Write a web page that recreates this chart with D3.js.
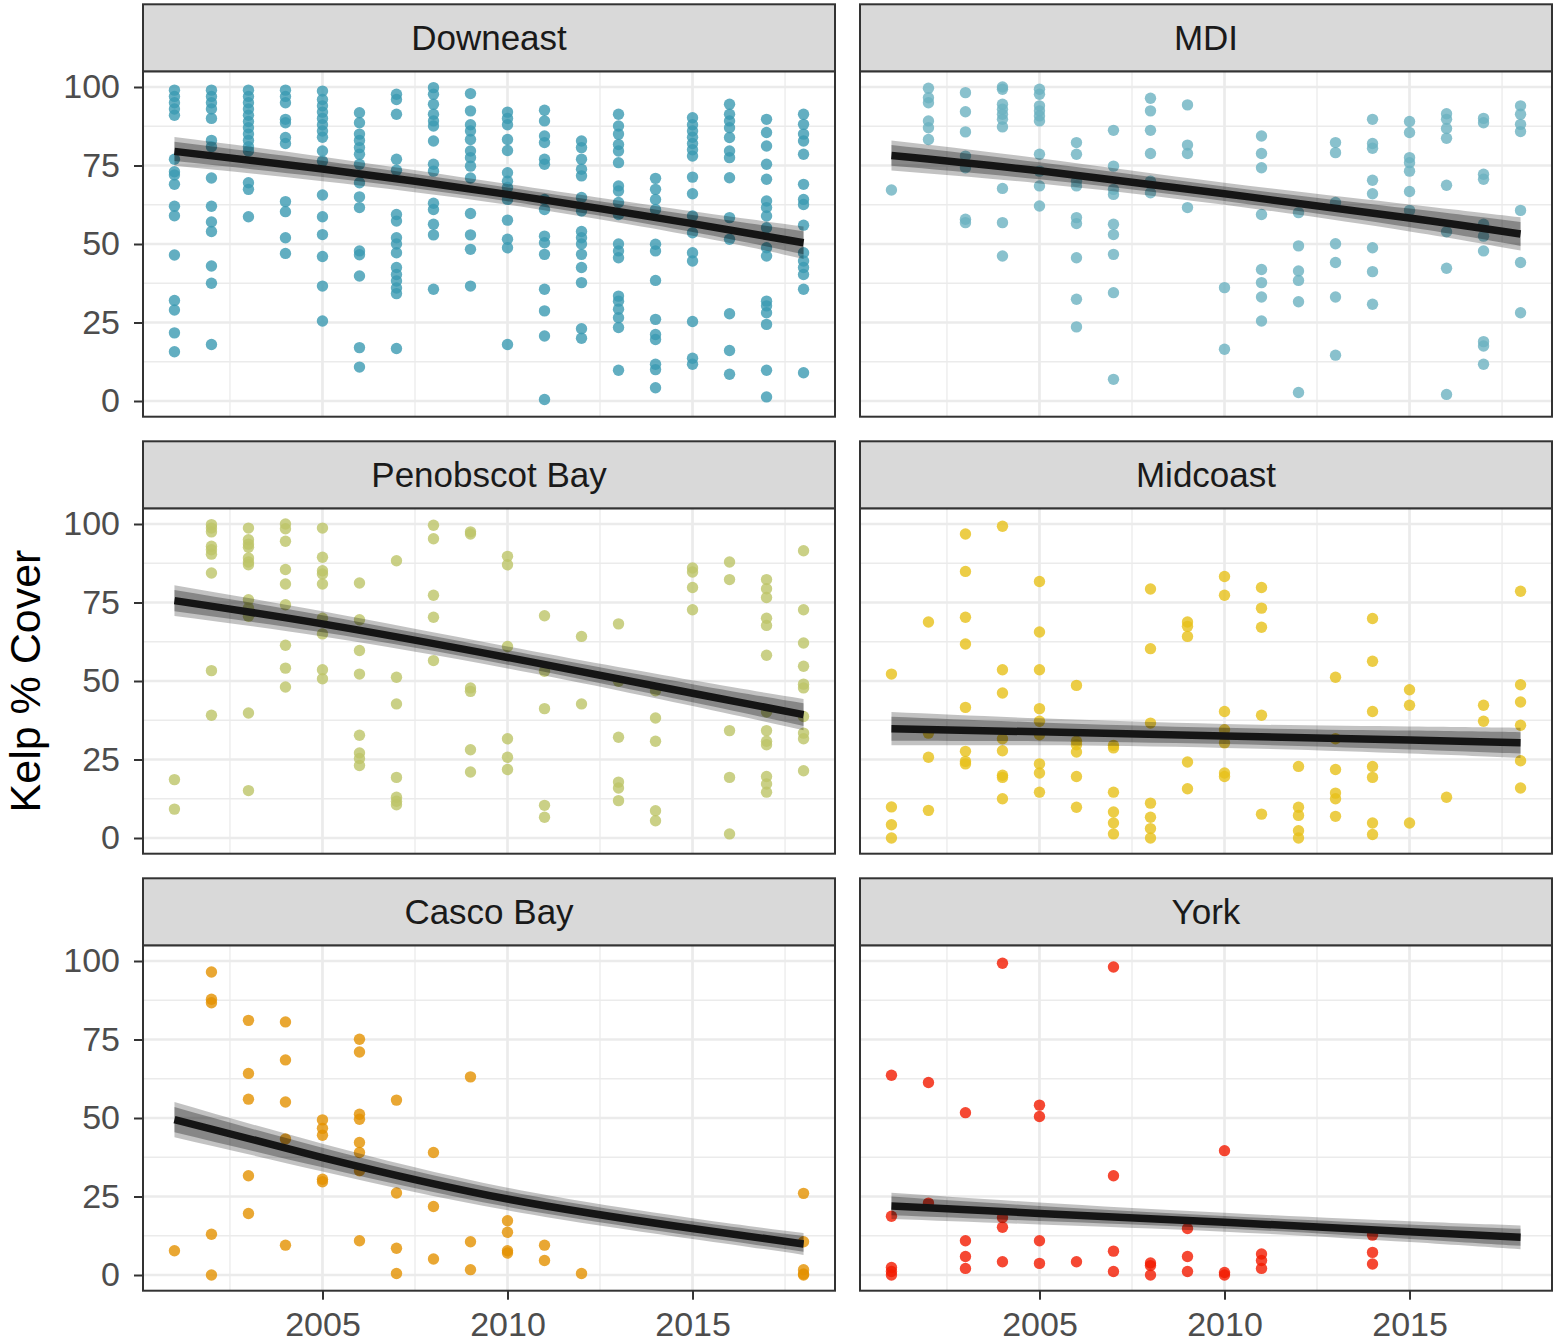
<!DOCTYPE html>
<html>
<head>
<meta charset="utf-8">
<script src="https://cdn.jsdelivr.net/npm/d3@7"></script>
<style>
  html, body { margin: 0; padding: 0; background: #fff; }
  svg text { font-family: "Liberation Sans", Arial, Helvetica, sans-serif; }
</style>
</head>
<body>
<svg id="chart" width="1554" height="1342"></svg>
<script>
// ---- regions, colours and axis breaks ----
const regions = ["Downeast", "MDI", "Penobscot Bay", "Midcoast", "Casco Bay", "York"];
const regionColors = ["#3B9AB2", "#6CB1C1", "#BDC468", "#E7C019", "#E49100", "#F21A00"];
const yearBreaks = [2005, 2010, 2015];
const yearMinorBreaks = [2002.5, 2007.5, 2012.5, 2017.5];
const coverBreaks = [0, 25, 50, 75, 100];
const coverMinorBreaks = [12.5, 37.5, 62.5, 87.5];
const yearRange = [2001, 2018];

// ---- transect observations: [year, [kelp % cover values]] ----
const downeastObs = [
  [2001, [99, 97, 95, 93, 91, 77, 73, 72, 69, 62, 59, 46.5, 32, 29, 21.7, 15.7]],
  [2002, [99, 97, 95, 93, 90, 83, 81, 71, 62, 57, 54, 43, 37.5, 18]],
  [2003, [99, 97, 95, 93, 91, 89, 87, 85, 83, 81, 79.6, 69.5, 67.4, 58.7]],
  [2004, [99, 97, 95, 89.7, 88.6, 83.9, 82, 63.5, 60.3, 52, 47]],
  [2005, [98.7, 96, 94, 92, 90, 88, 86, 84, 79.6, 76.4, 65.6, 58.7, 53, 46, 36.6, 25.5]],
  [2006, [91.8, 88.6, 85, 83, 80.7, 78.6, 75.4, 69.5, 65, 61.6, 47.8, 46.6, 39.8, 17, 10.8]],
  [2007, [97.7, 96, 91.3, 77, 73.5, 59.4, 57.3, 52, 50, 47.2, 42.5, 40.3, 38.2, 36, 34.2, 16.7]],
  [2008, [99.8, 97.7, 94.5, 91.3, 89.2, 87.6, 82.8, 75.4, 73.2, 63, 61, 56.3, 52.9, 35.6]],
  [2009, [97.9, 92.4, 88, 86, 83.3, 79.6, 77.5, 74.8, 71, 59.7, 52.9, 48.3, 36.6]],
  [2010, [92, 90, 88, 83.3, 79.8, 72.7, 70, 68, 64.2, 57.6, 51.5, 48.8, 18]],
  [2011, [92.6, 89.2, 84.4, 82.3, 77, 75.4, 64.2, 61, 52.5, 50.4, 46.7, 35.6, 28.7, 20.7, 0.5]],
  [2012, [82.8, 80.7, 77, 73.8, 71.7, 64.8, 60.5, 54, 52, 50, 46.7, 42.5, 37.7, 23, 20]],
  [2013, [91.3, 87.6, 85, 81.7, 79.6, 75.9, 68.5, 66.9, 63.2, 59.4, 50, 47.8, 45.6, 33.4, 31.8, 29.2, 26.5, 23.4, 9.8]],
  [2014, [70.9, 67.4, 64.2, 61, 49.9, 47.8, 38.4, 26, 21.2, 19.6, 11.7, 10, 4.2]],
  [2015, [90.2, 88, 86, 84, 82, 80, 78, 71.3, 66, 58.9, 53.6, 47.2, 44.6, 25.3, 13.6, 11.7]],
  [2016, [94.5, 91.3, 89.2, 87, 83.9, 79.6, 77.5, 71.1, 58.4, 51.5, 27.8, 16.1, 8.5]],
  [2017, [89.7, 85.5, 81.2, 75.4, 70.6, 63.7, 61.6, 58.9, 55.2, 48.8, 46.2, 31.8, 30.3, 28.1, 24.4, 9.8, 1.3]],
  [2018, [91.3, 88.1, 85, 82.8, 78.6, 69, 64.2, 62.6, 56, 47.2, 44.6, 42.5, 40.3, 35.6, 9]]
];
const mdiObs = [
  [2001, [67.2]],
  [2002, [99.6, 96.6, 95, 89.2, 87, 83.3]],
  [2003, [98.2, 92.1, 85.7, 78, 74.3, 57.9, 56.8]],
  [2004, [100, 99.3, 94.5, 92.9, 91.3, 89.7, 87.3, 67.7, 56.8, 46.2]],
  [2005, [99.3, 97.7, 94, 92.4, 90.8, 89.2, 78.6, 73.2, 68.5, 62.1]],
  [2006, [82.3, 78.6, 70, 68.5, 58.4, 56.5, 45.6, 32.4, 23.6]],
  [2007, [86.2, 74.8, 67.4, 65.8, 56.3, 53, 46.7, 34.5, 6.9]],
  [2008, [96.4, 92.4, 86.2, 78.8, 70, 66.3]],
  [2009, [94.3, 81.5, 78.8, 61.6]],
  [2010, [36.1, 16.5]],
  [2011, [84.4, 78.8, 74.3, 59.4, 41.9, 37.7, 33.1, 25.5]],
  [2012, [60, 49.4, 41.4, 38.4, 31.6, 2.7]],
  [2013, [82.3, 79.1, 63.2, 50.1, 44.1, 33.1, 14.6]],
  [2014, [89.7, 82, 80.5, 70.3, 66, 48.8, 41.2, 30.8]],
  [2015, [89, 85.5, 77.5, 75.9, 73.2, 66.7, 60.7]],
  [2016, [91.5, 89.7, 86.8, 83.7, 68.7, 53.9, 42.3, 2.1]],
  [2017, [90, 88.6, 72.2, 70.6, 56.3, 52.5, 47.8, 18.9, 17.5, 11.7]],
  [2018, [94, 91.3, 88.1, 85.8, 60.7, 44.1, 28.1]]
];
const penobscotObs = [
  [2001, [18.6, 9.2]],
  [2002, [99.8, 98.7, 97.5, 92.9, 91.8, 90.4, 84.4, 53.3, 39.1]],
  [2003, [98.7, 95, 93.6, 92.6, 89.2, 87.9, 87, 75.9, 73.2, 70.6, 39.8, 15.1]],
  [2004, [100, 98.5, 94.5, 85.5, 80.9, 74.3, 61.4, 54.1, 48.1]],
  [2005, [98.7, 89.4, 85.1, 84.1, 80.9, 70, 65, 53.6, 50.7]],
  [2006, [81.2, 69.5, 59.7, 52.2, 32.7, 27.1, 25.3, 23.1]],
  [2007, [88.3, 51.2, 42.7, 19.3, 13, 11.7, 10.6]],
  [2008, [99.6, 95.3, 77.3, 70.3, 56.5]],
  [2009, [97.5, 96.8, 47.8, 46.7, 28.1, 21]],
  [2010, [89.7, 87, 61, 31.6, 25.7, 21.8]],
  [2011, [70.8, 53.1, 41.2, 10.4, 6.6]],
  [2012, [64.2, 42.7]],
  [2013, [68.2, 49.9, 32.1, 17.8, 15.9, 11.9]],
  [2014, [46.9, 38.2, 30.8, 8.7, 5.5]],
  [2015, [86, 84.7, 79.8, 72.7]],
  [2016, [87.9, 82.3, 34.2, 19.3, 1.3]],
  [2017, [82.3, 79.4, 76.6, 70, 67.7, 58.2, 40.1, 34.2, 30.8, 29.7, 19.6, 17.2, 14.6]],
  [2018, [91.5, 72.7, 62.1, 54.7, 49, 47.8, 38.7, 33.4, 31.6, 21.4]]
];
const midcoastObs = [
  [2001, [52.2, 9.9, 4.2, 0]],
  [2002, [68.8, 33.4, 25.7, 8.8]],
  [2003, [96.8, 84.9, 70.3, 61.8, 41.6, 27.6, 24.4, 23.6]],
  [2004, [99.3, 53.6, 46.2, 31.6, 27.8, 20, 19.3, 12.5]],
  [2005, [81.7, 65.6, 53.6, 41.2, 37.2, 32.9, 23.6, 20.7, 14.6]],
  [2006, [48.6, 30.8, 29.7, 27.4, 19.6, 9.8]],
  [2007, [29.5, 28.7, 14.6, 8.3, 4.8, 1.3]],
  [2008, [79.3, 60.3, 36.6, 11.1, 6.6, 3, 0]],
  [2009, [68.8, 67.4, 64.2, 24.2, 15.7]],
  [2010, [83.3, 77.3, 40.3, 34.5, 30.3, 20.7, 19.6]],
  [2011, [79.8, 73.2, 67.1, 39.1, 7.6]],
  [2012, [22.8, 9.8, 7.2, 2.3, 0]],
  [2013, [51.2, 31.6, 21.8, 14.3, 12.5, 6.9]],
  [2014, [69.9, 56.3, 40.3, 22.8, 19.3, 4.8, 1.1]],
  [2015, [47.2, 42.3, 4.8]],
  [2016, [13]],
  [2017, [42.3, 37.2]],
  [2018, [78.6, 48.8, 43.3, 35.9, 24.6, 15.9]]
];
const cascoObs = [
  [2001, [7.7]],
  [2002, [96.5, 87.8, 86.7, 13, 0]],
  [2003, [81.1, 64.2, 56, 31.6, 19.6]],
  [2004, [80.6, 68.5, 55.1, 43.3, 9.5]],
  [2005, [49.4, 46.7, 44.5, 30.5, 29.7]],
  [2006, [75.1, 71, 51.2, 49.6, 42.2, 39, 33.2, 10.9]],
  [2007, [55.7, 26.1, 8.5, 0.5]],
  [2008, [39, 21.8, 5.1]],
  [2009, [63.1, 10.6, 1.7]],
  [2010, [17.3, 13.6, 7.7, 7]],
  [2011, [9.5, 4.6]],
  [2012, [0.5]],
  [2018, [26, 10.6, 1.7, 0.3, 0]]
];
const yorkObs = [
  [2001, [63.6, 18.7, 2.4, 1.1, 0]],
  [2002, [61.3, 22.9]],
  [2003, [51.7, 10.9, 5.9, 2.1]],
  [2004, [99.3, 18.3, 15.2, 4.2]],
  [2005, [54.1, 50.5, 10.9, 3.7]],
  [2006, [4.2]],
  [2007, [98.1, 31.6, 7.6, 1.1]],
  [2008, [3.8, 3, 0]],
  [2009, [14.8, 5.9, 1.1]],
  [2010, [39.6, 0.8, 0]],
  [2011, [6.7, 4.6, 2.1]],
  [2014, [12.7, 7.2, 3.5]]
];

// ---- fitted trend (% cover) at these years, with band half-widths ----
const fitYears = [2001, 2005, 2010, 2015, 2018];
const downeastFit = [79.5, 73.9, 65.8, 56.5, 50.4];
const mdiFit = [78.2, 73.3, 66.0, 58.3, 53.2];
const penobscotFit = [75.6, 68.2, 57.5, 46.1, 39.3];
const midcoastFit = [34.8, 33.8, 32.5, 31.2, 30.3];
const cascoFit = [49.5, 37.4, 24.2, 14.8, 9.9];
const yorkFit = [22.0, 19.6, 16.8, 13.8, 12.0];
const downeastBandOuter = [4.6, 3.9, 3.3, 3.9, 5.2];
const downeastBandInner = [3.1, 2.6, 2.2, 2.7, 3.7];
const mdiBandOuter = [4.8, 4.0, 3.5, 4.3, 5.3];
const mdiBandInner = [3.3, 2.7, 2.3, 3.0, 3.8];
const penobscotBandOuter = [4.9, 4.0, 3.5, 4.1, 5.0];
const penobscotBandInner = [3.4, 2.7, 2.3, 2.9, 3.6];
const midcoastBandOuter = [5.3, 4.3, 3.8, 4.3, 4.8];
const midcoastBandInner = [3.8, 3.0, 2.6, 3.0, 3.4];
const cascoBandOuter = [5.6, 4.4, 3.6, 3.3, 3.5];
const cascoBandInner = [4.0, 3.1, 2.5, 2.3, 2.5];
const yorkBandOuter = [4.2, 3.5, 3.0, 3.3, 3.8];
const yorkBandInner = [3.0, 2.4, 2.0, 2.3, 2.7];

const observations = [downeastObs, mdiObs, penobscotObs, midcoastObs, cascoObs, yorkObs];
const fits = [downeastFit, mdiFit, penobscotFit, midcoastFit, cascoFit, yorkFit];
const bandsOuter = [downeastBandOuter, mdiBandOuter, penobscotBandOuter, midcoastBandOuter, cascoBandOuter, yorkBandOuter];
const bandsInner = [downeastBandInner, mdiBandInner, penobscotBandInner, midcoastBandInner, cascoBandInner, yorkBandInner];

// ---- layout ----
const colLeft = [143, 860];
const panelW = 692;
const rowTop = [71.3, 508.3, 945.3];
const panelH = 345.4;
const stripH = 67;
const tickLen = 9;
const fontTick = 34;
const fontStrip = 35;

const svg = d3.select("#chart");

const x = d3.scaleLinear()
  .domain([yearRange[0] - 0.05 * (yearRange[1] - yearRange[0]), yearRange[1] + 0.05 * (yearRange[1] - yearRange[0])])
  .range([0, panelW]);
const y = d3.scaleLinear().domain([-5, 105]).range([panelH, 0]);

regions.forEach((name, i) => {
  const col = i % 2, row = Math.floor(i / 2);
  const g = svg.append("g").attr("transform", `translate(${colLeft[col]},${rowTop[row]})`);

  // strip
  svg.append("rect")
    .attr("x", colLeft[col]).attr("y", rowTop[row] - stripH)
    .attr("width", panelW).attr("height", stripH)
    .attr("fill", "#D9D9D9").attr("stroke", "#333333").attr("stroke-width", 2);
  svg.append("text")
    .attr("x", colLeft[col] + panelW / 2).attr("y", rowTop[row] - stripH / 2)
    .attr("dy", "0.35em").attr("text-anchor", "middle")
    .attr("font-size", fontStrip).attr("fill", "#1A1A1A")
    .text(name);

  // panel background + grid
  g.append("rect").attr("width", panelW).attr("height", panelH).attr("fill", "#fff");
  const clipId = "clip" + i;
  g.append("clipPath").attr("id", clipId).append("rect").attr("width", panelW).attr("height", panelH);
  const grid = g.append("g").attr("clip-path", `url(#${clipId})`);
  grid.selectAll(".ymin").data(coverMinorBreaks).join("line")
    .attr("x1", 0).attr("x2", panelW).attr("y1", d => y(d)).attr("y2", d => y(d))
    .attr("stroke", "#EBEBEB").attr("stroke-width", 1.3);
  grid.selectAll(".xmin").data(yearMinorBreaks).join("line")
    .attr("y1", 0).attr("y2", panelH).attr("x1", d => x(d)).attr("x2", d => x(d))
    .attr("stroke", "#EBEBEB").attr("stroke-width", 1.3);
  grid.selectAll(".ymaj").data(coverBreaks).join("line")
    .attr("x1", 0).attr("x2", panelW).attr("y1", d => y(d)).attr("y2", d => y(d))
    .attr("stroke", "#EBEBEB").attr("stroke-width", 2.7);
  grid.selectAll(".xmaj").data(yearBreaks).join("line")
    .attr("y1", 0).attr("y2", panelH).attr("x1", d => x(d)).attr("x2", d => x(d))
    .attr("stroke", "#EBEBEB").attr("stroke-width", 2.7);

  const plot = g.append("g").attr("clip-path", `url(#${clipId})`);

  // points
  const pts = observations[i].flatMap(([yr, vals]) => vals.map(v => ({ yr, v })));
  plot.selectAll("circle").data(pts).join("circle")
    .attr("cx", d => x(d.yr)).attr("cy", d => y(d.v)).attr("r", 5.7)
    .attr("fill", regionColors[i]).attr("fill-opacity", 0.8);

  // fitted trend with confidence bands
  const fitData = fitYears.map((yr, k) => ({ yr, v: fits[i][k], o: bandsOuter[i][k], n: bandsInner[i][k] }));
  const areaOuter = d3.area().curve(d3.curveNatural)
    .x(d => x(d.yr)).y0(d => y(d.v - d.o)).y1(d => y(d.v + d.o));
  const areaInner = d3.area().curve(d3.curveNatural)
    .x(d => x(d.yr)).y0(d => y(d.v - d.n)).y1(d => y(d.v + d.n));
  plot.append("path").datum(fitData).attr("d", areaOuter).attr("fill", "#000").attr("fill-opacity", 0.24);
  plot.append("path").datum(fitData).attr("d", areaInner).attr("fill", "#000").attr("fill-opacity", 0.3);
  plot.append("path").datum(fitData)
    .attr("d", d3.line().curve(d3.curveNatural).x(d => x(d.yr)).y(d => y(d.v)))
    .attr("fill", "none").attr("stroke", "#151515").attr("stroke-width", 7.5);

  // panel border
  g.append("rect").attr("width", panelW).attr("height", panelH)
    .attr("fill", "none").attr("stroke", "#333333").attr("stroke-width", 2);

  // y axis on left column
  if (col === 0) {
    const ya = g.append("g").call(d3.axisLeft(y).tickValues(coverBreaks).tickSize(tickLen).tickPadding(14));
    ya.select(".domain").remove();
    ya.selectAll(".tick line").attr("stroke", "#333333").attr("stroke-width", 2);
    ya.selectAll(".tick text").attr("font-size", fontTick).attr("fill", "#4D4D4D")
      .attr("font-family", "'Liberation Sans', Arial, sans-serif");
  }
  // x axis on bottom row
  if (row === 2) {
    const xa = g.append("g").attr("transform", `translate(0,${panelH})`)
      .call(d3.axisBottom(x).tickValues(yearBreaks).tickFormat(d3.format("d")).tickSize(tickLen).tickPadding(12));
    xa.select(".domain").remove();
    xa.selectAll(".tick line").attr("stroke", "#333333").attr("stroke-width", 2);
    xa.selectAll(".tick text").attr("font-size", fontTick).attr("fill", "#4D4D4D")
      .attr("font-family", "'Liberation Sans', Arial, sans-serif");
  }
});

// y axis title
svg.append("text")
  .attr("transform", `translate(25,${(rowTop[0] + rowTop[2] + panelH) / 2}) rotate(-90)`)
  .attr("text-anchor", "middle").attr("dy", "0.35em")
  .attr("font-size", 43).attr("fill", "#000")
  .text("Kelp % Cover");
</script>
</body>
</html>
